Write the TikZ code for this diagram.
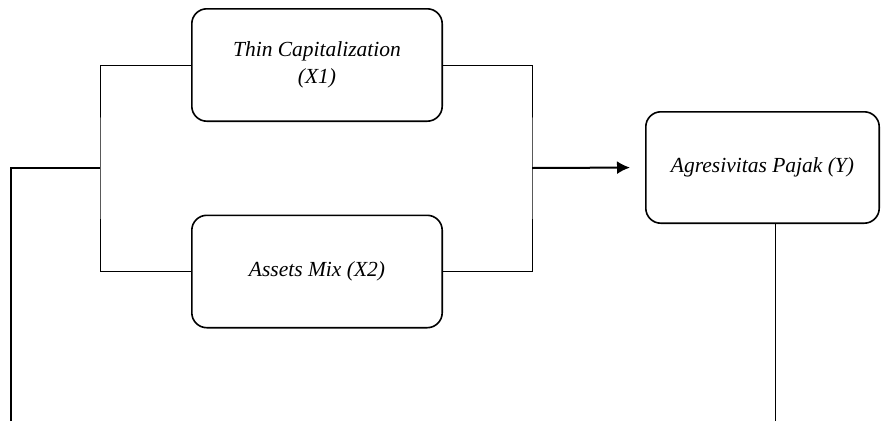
\documentclass[tikz,border=0pt]{standalone}
\usepackage{fontspec}
\setmainfont{Liberation Serif}
\usetikzlibrary{arrows.meta}
\tikzset{%
  >={Latex[width=13pt,length=13pt]},
  % Specifications for style of nodes:
         base/.style = {rectangle, rounded corners=15pt, draw=black,
                        line width=1.6pt, text centered, align=center,
                        font=\fontsize{21.5}{27}\selectfont\itshape},
    variableX/.style = {base, minimum width=250.4pt, minimum height=112.4pt},
    variableY/.style = {base, minimum width=233.4pt, minimum height=111.4pt},
}

\begin{document}
\begin{tikzpicture}[x=1pt, y=1pt, node distance=206.5pt]
  \useasboundingbox (0,0) rectangle (882,-421);
  \node (thinCap)    [variableX] at (317,-65)
                     {Thin Capitalization \\ (X1)};
  \node (assetsMix)  [variableX, below of=thinCap]
                     {Assets Mix (X2)};
  \node (taxAggr)    [variableY, right of=thinCap, xshift=239pt, yshift=-102.5pt]
                     {Agresivitas Pajak (Y)};

  % Free ends and branching points of the connectors
  \coordinate (leftEnd)  at (11,-421);
  \coordinate (splitL)   at (100,-168);
  \coordinate (joinR)    at (532,-168);
  \coordinate (rightEnd) at (775,-421);

  % Specification of lines between nodes specified above
  \draw[line width=2pt]       (leftEnd) |- (splitL);
  \draw[line width=1pt]       (thinCap.west) -| (splitL) |- (assetsMix.west);
  \draw[line width=1pt]       (thinCap.east) -| (joinR) |- (assetsMix.east);
  \draw[->, line width=2pt, shorten >=15pt] (joinR) -- (taxAggr.west);
  \draw[line width=1pt]       (rightEnd) -- (rightEnd |- taxAggr.south);
\end{tikzpicture}
\end{document}
